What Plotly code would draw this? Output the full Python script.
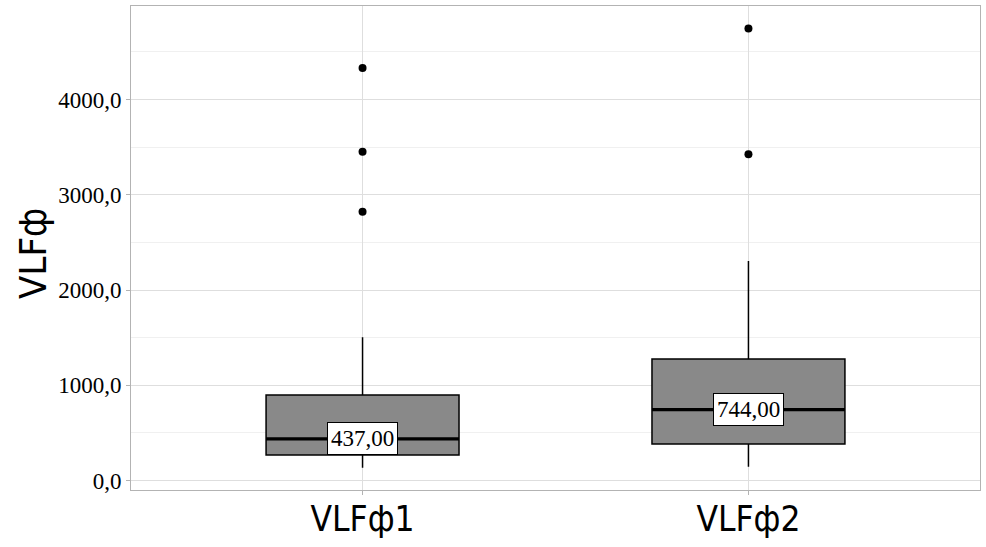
import plotly.graph_objects as go

categories = ["VLFф1", "VLFф2"]
positions = [1, 2]
q1 = [268, 383]
median = [437, 744]
q3 = [898, 1276]
lower_whisker = [134, 145]
upper_whisker = [1503, 2304]
outliers = [[2822, 3452, 4331], [3425, 4747]]
median_labels = ["437,00", "744,00"]
y_ticks = [0, 1000, 2000, 3000, 4000]
y_ticklabels = ["0,0", "1000,0", "2000,0", "3000,0", "4000,0"]
y_minor = [500, 1500, 2500, 3500, 4500]

SANS = "DejaVu Sans Condensed, sans-serif"
SERIF = "Liberation Serif, Times New Roman, serif"
BOXW = 0.5

fig = go.Figure()
fig.add_trace(go.Box(
    x=positions, q1=q1, median=median, q3=q3,
    lowerfence=lower_whisker, upperfence=upper_whisker,
    width=BOXW, fillcolor="#898989",
    line=dict(color="black", width=1.5),
    whiskerwidth=0, boxpoints=False, showlegend=False, hoverinfo="skip",
))
for p, m in zip(positions, median):
    fig.add_trace(go.Scatter(
        x=[p - BOXW / 2, p + BOXW / 2], y=[m, m], mode="lines",
        line=dict(color="black", width=3.2), showlegend=False, hoverinfo="skip",
    ))
for p, outs in zip(positions, outliers):
    fig.add_trace(go.Scatter(
        x=[p] * len(outs), y=outs, mode="markers",
        marker=dict(color="black", size=8), showlegend=False,
    ))
for p, m, lab in zip(positions, median, median_labels):
    fig.add_annotation(
        x=p, y=m, text=lab, showarrow=False,
        bgcolor="white", bordercolor="black", borderwidth=1, borderpad=3,
        font=dict(family=SERIF, size=23, color="black"),
    )

fig.add_annotation(
    xref="paper", yref="paper", x=(33 - 131) / 849, y=(490 - 254) / 484,
    text="VLFф", textangle=-90, showarrow=False,
    xanchor="center", yanchor="middle",
    font=dict(family=SANS, size=38, color="black"),
)

fig.update_layout(
    width=986, height=547,
    margin=dict(l=131, r=6, t=6, b=57),
    paper_bgcolor="white", plot_bgcolor="white",
    font=dict(family=SERIF, color="black"),
    xaxis=dict(
        range=[0.4, 2.6], tickvals=positions, ticktext=categories,
        tickfont=dict(family=SANS, size=35, color="black"),
        ticklabelstandoff=-6,
        showgrid=True, gridcolor="#dedede", gridwidth=1,
        ticks="outside", ticklen=4, tickcolor="#b3b3b3",
        showline=True, linecolor="#b3b3b3", mirror=True, linewidth=1,
        zeroline=False, automargin=False,
    ),
    yaxis=dict(
        range=[-100, 4982], tickvals=y_ticks, ticktext=y_ticklabels,
        tickfont=dict(family=SERIF, size=23, color="black"),
        showgrid=True, gridcolor="#dedede", gridwidth=1,
        minor=dict(tickvals=y_minor, showgrid=True, gridcolor="#f0f0f0", ticks=""),
        ticks="outside", ticklen=4, tickcolor="#b3b3b3",
        showline=True, linecolor="#b3b3b3", mirror=True, linewidth=1,
        zeroline=False, automargin=False,
    ),
)

fig.write_html(
    "out.html",
    config={"displayModeBar": False},
    post_script="document.body.style.margin='0px';document.body.style.overflow='hidden';",
)
